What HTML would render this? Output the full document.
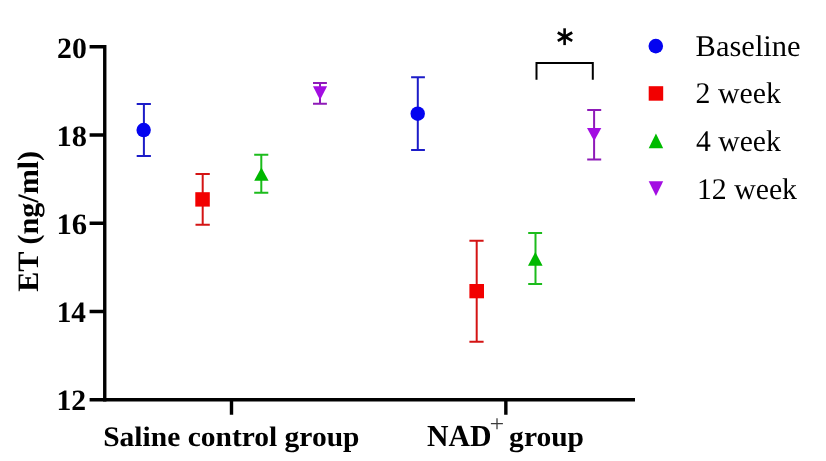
<!DOCTYPE html>
<html><head><meta charset="utf-8">
<style>
html,body{margin:0;padding:0;background:#fff;}
svg{display:block;will-change:transform;text-rendering:geometricPrecision;}
.b{font-family:"Liberation Serif",serif;font-weight:bold;}
.r{font-family:"Liberation Serif",serif;}
</style></head>
<body>
<svg width="826" height="461" viewBox="0 0 826 461">
<rect width="826" height="461" fill="#fff"/>
<!-- axes -->
<g stroke="#000" stroke-width="3.4" fill="none">
<path d="M104.75 45.1 V401.45"/>
<path d="M89.6 46.8 H104.75 M89.6 135 H104.75 M89.6 223.25 H104.75 M89.6 311.5 H104.75"/>
<path d="M89.6 399.75 H635"/>
<path d="M231.5 399.75 V414.7 M505.85 399.75 V414.7"/>
</g>
<!-- y tick labels -->
<g class="b" font-size="29" text-anchor="end" fill="#000">
<text transform="translate(86.79 58) scale(1.0263 1.017)">20</text>
<text transform="translate(86.9 146) scale(1.0508 1.017)">18</text>
<text transform="translate(87.16 234) scale(1.0565 1.017)">16</text>
<text transform="translate(85.95 322) scale(1.0111 1.017)">14</text>
<text transform="translate(86.2 410) scale(1.0244 1.017)">12</text>
</g>
<!-- y axis label -->
<text class="b" font-size="30" fill="#000" text-anchor="middle" transform="translate(37.7 221.32) rotate(-90) scale(1.0043 0.988)">ET (ng/ml)</text>
<!-- x labels -->
<text class="b" font-size="29" fill="#000" transform="translate(103.2 446) scale(1.0174 0.975)">Saline control group</text>
<text class="b" font-size="30" fill="#000" transform="translate(426.92 446) scale(0.9932 1.0188)">NAD</text>
<text class="b" font-size="29" fill="#000" transform="translate(509.12 446) scale(1.0179 0.975)">group</text>
<path d="M490.9 423.6 H502.9 M497 418.2 V429.2" stroke="#3a3a3a" stroke-width="1.25" fill="none"/>

<!-- data: saline -->
<g stroke-width="2" fill="none">
<g stroke="#1c1cc8"><path d="M143.9 104 V156.05 M136.7 104 H150.9 M136.7 156.05 H150.9"/></g>
<g stroke="#d41414"><path d="M202.7 174.1 V224.85 M195.5 174.1 H209.8 M195.5 224.85 H209.8"/></g>
<g stroke="#1cbc1c"><path d="M261.3 154.85 V192.8 M254.2 154.85 H268.3 M254.2 192.8 H268.3"/></g>
<g stroke="#8e1ab8"><path d="M320 83.1 V103.85 M313 83.1 H326.9 M313 103.85 H326.9"/></g>
</g>
<circle cx="143.65" cy="130.05" r="7.2" fill="#0404f0"/>
<rect x="195.3" y="192.2" width="14.5" height="14.4" fill="#f20000"/>
<path d="M261.4 167.5 L268.6 180.8 L254.2 180.8 Z" fill="#00b800"/>
<path d="M313 86.2 L327.1 86.2 L320 100.1 Z" fill="#a30ee2"/>

<!-- data: NAD -->
<g stroke-width="2" fill="none">
<g stroke="#1c1cc8"><path d="M417.8 77.15 V149.95 M411.1 77.15 H424.9 M411.1 149.95 H424.9"/></g>
<g stroke="#d41414"><path d="M476.7 240.85 V341.8 M469.4 240.85 H483.6 M469.4 341.8 H483.6"/></g>
<g stroke="#1cbc1c"><path d="M535.5 233.1 V284 M528.2 233.1 H542.1 M528.2 284 H542.1"/></g>
<g stroke="#8e1ab8"><path d="M594.1 109.9 V159.5 M587.2 109.9 H601.2 M587.2 159.5 H601.2"/></g>
</g>
<circle cx="417.7" cy="113.7" r="7.2" fill="#0404f0"/>
<rect x="469.4" y="284" width="14.6" height="14.3" fill="#f20000"/>
<path d="M535.3 252 L542.6 265.8 L528 265.8 Z" fill="#00b800"/>
<path d="M587 127.9 L601.3 127.9 L594.15 141.1 Z" fill="#a30ee2"/>

<!-- significance -->
<path d="M536.5 79.7 V63 H592.8 V79.7" stroke="#000" stroke-width="2" fill="none"/>
<g stroke="#000" stroke-width="2.6" fill="none">
<path d="M564.6 28.3 V45.1"/><path stroke-width="2.8" d="M557.8 32.5 L572.2 40.9 M557.8 40.9 L572.2 32.5"/>
</g>

<!-- legend -->
<circle cx="655.8" cy="46.1" r="7.3" fill="#0404f0"/>
<rect x="648.7" y="86.2" width="14.5" height="14.5" fill="#f20000"/>
<path d="M655.95 133.5 L663.2 148.2 L648.7 148.2 Z" fill="#00bb00"/>
<path d="M648.7 181.2 L663.2 181.2 L655.95 196.1 Z" fill="#a30ee2"/>
<g class="r" font-size="30" fill="#000">
<text transform="translate(695.59 55.8) scale(1.0169 1)">Baseline</text>
<text transform="translate(695.58 103.15) scale(0.9934 1)">2 week</text>
<text transform="translate(696.11 150.85) scale(0.9872 1)">4 week</text>
<text transform="translate(696.89 198.55) scale(0.9933 1)">12 week</text>
</g>
</svg>
</body></html>
